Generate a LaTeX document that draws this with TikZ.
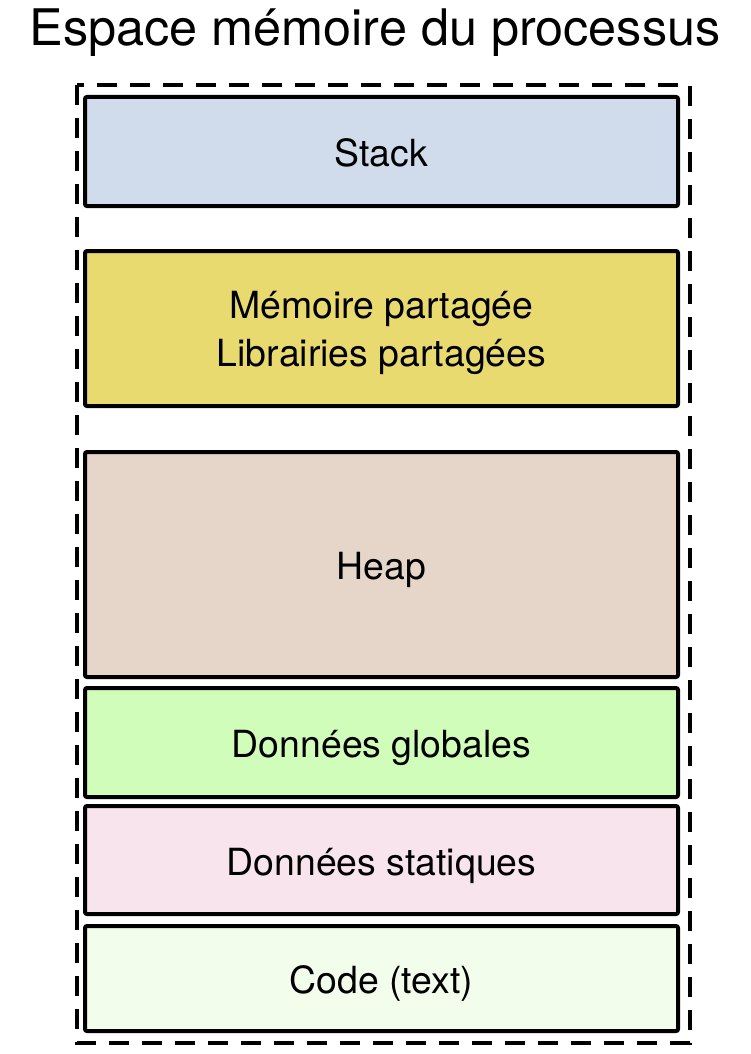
\documentclass[tikz,border=0pt]{standalone}
\usepackage{fontspec}
\setmainfont{TeX Gyre Heros}
\usepackage{xcolor}
\definecolor{stackcol}{HTML}{D0DCEB}
\definecolor{sharedcol}{HTML}{E8DA6E}
\definecolor{heapcol}{HTML}{E6D6CA}
\definecolor{globalcol}{HTML}{D1FDBB}
\definecolor{staticcol}{HTML}{F8E4EC}
\definecolor{codecol}{HTML}{F3FDEB}
\tikzset{
  segment/.style={draw=black, line width=2pt, rounded corners=1pt,
    minimum width=296.5pt, align=center, font=\fontsize{18.7}{24}\selectfont,
    text height=16pt, text depth=1pt},
}
\begin{document}
\begin{tikzpicture}[x=0.5pt,y=-0.5pt]
\useasboundingbox (0,0) rectangle (750,1054);
\node (title) at (375,33) {\fontsize{25.2}{30}\selectfont Espace mémoire du processus};
\draw [line width=1.8pt, dash pattern=on 10pt off 6.5pt] (77,85) rectangle (690,1043);
\node [segment, fill=stackcol, minimum height=54.5pt] (stack) at (381.5,151.5) {Stack};
\node [segment, fill=sharedcol, minimum height=77.5pt, text height=39pt] (shared) at (381.5,328.5) {Mémoire partagée\\Librairies partagées};
\node [segment, fill=heapcol, minimum height=112.5pt] (heap) at (381.5,564.5) {Heap};
\node [segment, fill=globalcol, minimum height=54.5pt] (global) at (381.5,742.5) {Données globales};
\node [segment, fill=staticcol, minimum height=54pt] (static) at (381.5,860) {Données statiques};
\node [segment, fill=codecol, minimum height=52.5pt] (code) at (381.5,978.5) {Code (text)};
\end{tikzpicture}
\end{document}
